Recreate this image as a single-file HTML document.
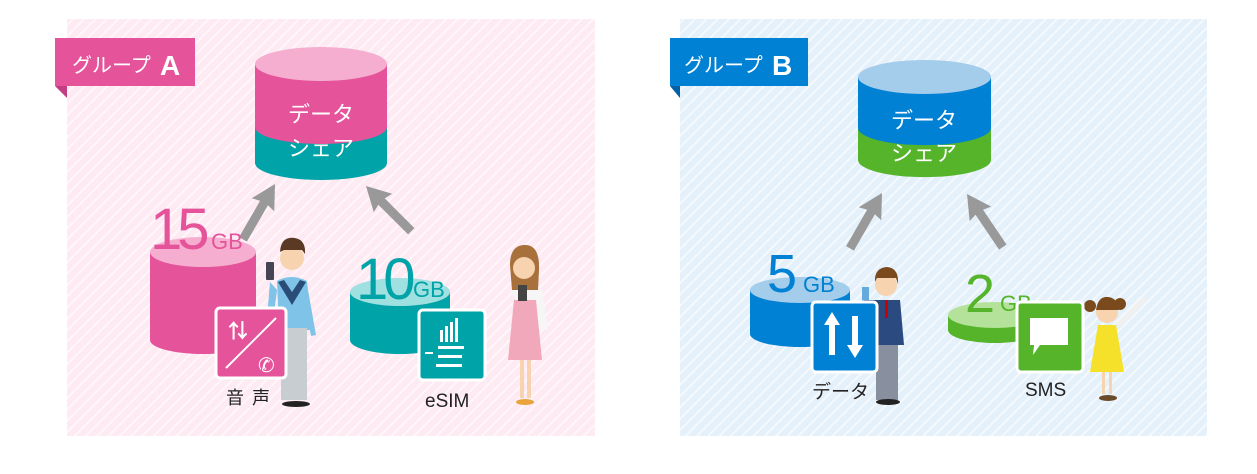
<!DOCTYPE html>
<html><head><meta charset="utf-8"><style>
html,body{margin:0;padding:0;background:#fff;width:1257px;height:474px;overflow:hidden}
svg text{font-family:"Liberation Sans","Noto Sans CJK JP",sans-serif}
</style></head><body>
<svg width="1257" height="474" viewBox="0 0 1257 474" xmlns="http://www.w3.org/2000/svg">
<defs>
<pattern id="hp" width="8" height="8" patternUnits="userSpaceOnUse" patternTransform="rotate(45)">
<rect width="8" height="8" fill="#fdeaf3"/><rect x="0" width="2" height="8" fill="#fff6fa"/></pattern>
<pattern id="hb" width="8" height="8" patternUnits="userSpaceOnUse" patternTransform="rotate(45)">
<rect width="8" height="8" fill="#e4f0fa"/><rect x="0" width="2" height="8" fill="#f4f9fd"/></pattern>
</defs>
<rect x="67" y="19" width="528" height="417" fill="url(#hp)"/>
<rect x="680" y="19" width="527" height="417" fill="url(#hb)"/>

<!-- Group A label -->
<polygon points="55,86 67,86 67,98" fill="#c43c82"/>
<rect x="55" y="38" width="140" height="48" fill="#e5539a"/>
<text x="72" y="72" font-size="20" fill="#fff">グループ</text>
<text x="160" y="75" font-size="28" font-weight="bold" fill="#fff">A</text>

<!-- main cyl A -->
<path d="M255,64 V163 A66,17 0 0 0 387,163 V64 Z" fill="#00a3a7"/>
<path d="M255,64 V127 A66,17 0 0 0 387,127 V64 Z" fill="#e5539a"/>
<ellipse cx="321" cy="64" rx="66" ry="17" fill="#f6aed0"/>
<text x="321" y="122" font-size="22" fill="#fff" text-anchor="middle">データ</text>
<text x="321" y="156" font-size="22" fill="#fff" text-anchor="middle">シェア</text>

<!-- arrows -->
<g fill="#999">
<path transform="translate(275,184) rotate(30)" d="M0,0 L13,24 L4.5,22 L4.5,64 L-4.5,64 L-4.5,22 L-13,24 Z"/>
<path transform="translate(366,186) rotate(-45)" d="M0,0 L13,24 L4.5,22 L4.5,64 L-4.5,64 L-4.5,22 L-13,24 Z"/>
<path transform="translate(882,193) rotate(30)" d="M0,0 L13,24 L4.5,22 L4.5,64 L-4.5,64 L-4.5,22 L-13,24 Z"/>
<path transform="translate(967,194) rotate(-34)" d="M0,0 L13,24 L4.5,22 L4.5,64 L-4.5,64 L-4.5,22 L-13,24 Z"/>
</g>

<!-- 15GB -->
<path d="M150,252 V340 A53,14 0 0 0 256,340 V252 Z" fill="#e5539a"/>
<ellipse cx="203" cy="252" rx="53" ry="15" fill="#f6aed0"/>
<text x="150" y="249" font-size="58" fill="#e5539a" letter-spacing="-5">15</text>
<text x="211" y="249" font-size="22" fill="#e5539a">GB</text>
<!-- person A -->
<circle cx="292" cy="258" r="12" fill="#f8d3b0"/>
<path d="M280,252 Q281,236 295,238 Q306,240 305,254 L302,250 L284,250 Z" fill="#5a3a25"/>
<rect x="266" y="262" width="8" height="18" rx="1" fill="#445"/>
<path d="M277,281 Q291,273 307,281 L312,330 L279,330 Z" fill="#7fc4e8"/>
<path d="M278,282 L292,305 L306,282 L300,280 L292,292 L284,280 Z" fill="#2a4d78"/>
<rect x="281" y="328" width="26" height="72" fill="#c7cdd1"/>
<path d="M270,282 L266,330 L272,330 L277,290 Z" fill="#7fc4e8"/>
<path d="M308,290 L316,335 L311,336 L304,300 Z" fill="#7fc4e8"/>
<ellipse cx="296" cy="404" rx="14" ry="3" fill="#222"/>
<!-- voice icon -->
<rect x="216" y="308" width="70" height="70" rx="4" fill="#e5539a" stroke="#fff" stroke-width="3"/>
<line x1="226" y1="368" x2="276" y2="318" stroke="#fff" stroke-width="2"/>
<text x="228" y="338" font-size="20" font-weight="bold" fill="#fff">⇅</text>
<text x="258" y="372" font-size="20" fill="#fff">✆</text>
<text x="226" y="404" font-size="18" fill="#222" letter-spacing="8">音声</text>

<!-- 10GB -->
<path d="M350,292 V340 A50,14 0 0 0 450,340 V292 Z" fill="#00a3a7"/>
<ellipse cx="400" cy="292" rx="50" ry="14" fill="#9fe0e0"/>
<text x="356" y="299" font-size="58" fill="#00a3a7" letter-spacing="-5">10</text>
<text x="413" y="297" font-size="22" fill="#00a3a7">GB</text>
<!-- woman -->
<path d="M510,265 Q510,245 525,245 Q540,245 539,270 L538,290 L512,290 Z" fill="#a8703a"/>
<circle cx="524" cy="268" r="11" fill="#f8d3b0"/>
<path d="M510,290 L542,290 L548,330 L536,330 L536,300 L516,300 Z" fill="#f6f6f6"/>
<path d="M514,300 L536,300 L542,360 L508,360 Z" fill="#f2a8bb"/>
<rect x="520" y="360" width="4" height="38" fill="#f8d3b0"/><rect x="527" y="360" width="4" height="38" fill="#f8d3b0"/>
<rect x="518" y="285" width="9" height="16" fill="#444"/>
<ellipse cx="525" cy="402" rx="9" ry="3" fill="#e8a43a"/>
<!-- esim icon -->
<rect x="419" y="310" width="66" height="70" rx="4" fill="#00a3a7" stroke="#fff" stroke-width="3"/>
<g fill="#fff"><rect x="440" y="330" width="3" height="12"/><rect x="445" y="326" width="3" height="16"/><rect x="450" y="322" width="3" height="20"/><rect x="455" y="318" width="3" height="24"/>
<rect x="438" y="346" width="26" height="3"/><rect x="438" y="355" width="24" height="3"/><rect x="436" y="364" width="26" height="3"/><rect x="425" y="352" width="8" height="2"/></g>
<text x="425" y="407" font-size="19" fill="#222">eSIM</text>

<!-- Group B label -->
<polygon points="670,86 680,86 680,98" fill="#0060a8"/>
<rect x="670" y="38" width="138" height="48" fill="#0081d4"/>
<text x="684" y="72" font-size="20" fill="#fff">グループ</text>
<text x="772" y="75" font-size="28" font-weight="bold" fill="#fff">B</text>

<!-- main cyl B -->
<path d="M858,77 V160 A66,17 0 0 0 991,160 V77 Z" fill="#55b42a"/>
<path d="M858,77 V128 A66,17 0 0 0 991,128 V77 Z" fill="#0081d4"/>
<ellipse cx="924.5" cy="77" rx="66.5" ry="17" fill="#a4cceb"/>
<text x="924" y="128" font-size="22" fill="#fff" text-anchor="middle">データ</text>
<text x="924" y="161" font-size="22" fill="#fff" text-anchor="middle">シェア</text>

<!-- 5GB -->
<path d="M750,290 V334 A50,13 0 0 0 850,334 V290 Z" fill="#0081d4"/>
<ellipse cx="800" cy="290" rx="50" ry="13" fill="#a4cceb"/>
<text x="767" y="292" font-size="54" fill="#0081d4">5</text>
<text x="803" y="292" font-size="22" fill="#0081d4">GB</text>
<!-- man B -->
<circle cx="886" cy="285" r="11" fill="#f8d3b0"/>
<path d="M875,282 Q874,268 887,267 Q899,268 898,284 L896,278 L877,278 Z" fill="#7a4a1c"/>
<rect x="862" y="287" width="7" height="14" fill="#6ad"/>
<path d="M873,300 L900,300 L904,345 L871,345 Z" fill="#2b4a80"/>
<path d="M873,300 L864,300 L860,312 L869,320 Z" fill="#2b4a80"/>
<rect x="885" y="300" width="3" height="18" fill="#c00"/>
<rect x="876" y="345" width="22" height="55" fill="#8890a0"/>
<ellipse cx="888" cy="402" rx="12" ry="3" fill="#222"/>
<rect x="812" y="302" width="65" height="70" rx="4" fill="#0081d4" stroke="#fff" stroke-width="3"/>
<g fill="#fff"><path d="M832,312 L840,325 L835,325 L835,355 L829,355 L829,325 L824,325 Z"/><path d="M855,358 L847,345 L852,345 L852,316 L858,316 L858,345 L863,345 Z"/></g>
<text x="812" y="398" font-size="19" fill="#222">データ</text>

<!-- 2GB -->
<path d="M948,315 V330 A47,13 0 0 0 1042,330 V315 Z" fill="#55b42a"/>
<ellipse cx="995" cy="315" rx="47" ry="13" fill="#b5e29a"/>
<text x="965" y="312" font-size="54" fill="#55b42a">2</text>
<text x="1000" y="311" font-size="22" fill="#55b42a">GB</text>
<!-- girl -->
<circle cx="1090" cy="306" r="6" fill="#7a4a1c"/><circle cx="1120" cy="304" r="6" fill="#7a4a1c"/>
<circle cx="1107" cy="312" r="11" fill="#f8d3b0"/>
<path d="M1096,310 Q1098,296 1108,297 Q1118,298 1118,310 Z" fill="#7a4a1c"/>
<line x1="1118" y1="325" x2="1145" y2="298" stroke="#f0f0f0" stroke-width="5"/>
<path d="M1098,325 L1116,325 L1124,372 L1090,372 Z" fill="#f5e12a"/>
<rect x="1102" y="372" width="3" height="22" fill="#f8d3b0"/><rect x="1109" y="372" width="3" height="22" fill="#f8d3b0"/>
<ellipse cx="1108" cy="398" rx="9" ry="3" fill="#6b4a2a"/>
<rect x="1017" y="302" width="66" height="70" rx="4" fill="#55b42a" stroke="#fff" stroke-width="3"/>
<path d="M1030,318 H1068 V345 H1040 L1033,355 L1034,345 H1030 Z" fill="#fff"/>
<text x="1025" y="396" font-size="19" fill="#222">SMS</text>
</svg>
</body></html>
